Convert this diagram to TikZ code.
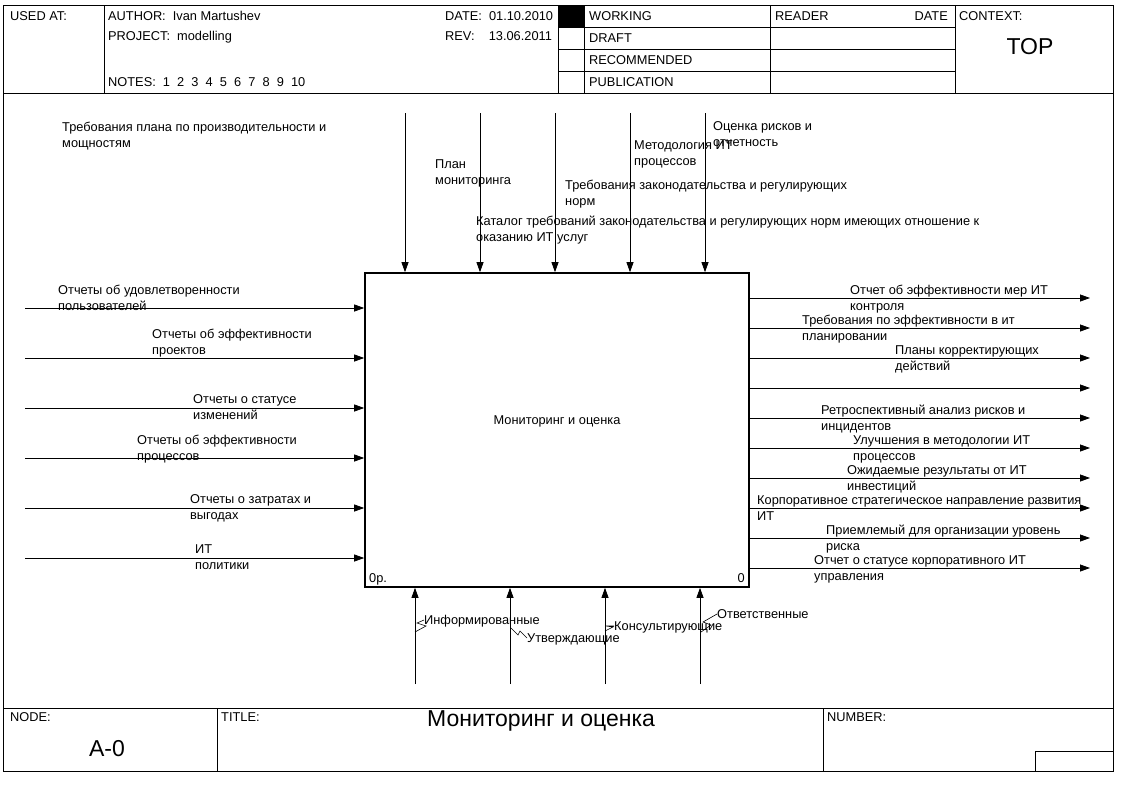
\documentclass[tikz,border=0pt]{standalone}
\usepackage{fontspec}
\setmainfont{Liberation Sans}
\usetikzlibrary{arrows.meta}
\tikzset{
    frame/.style={draw=black, line width=1pt},
    lbl/.style={anchor=base west, inner sep=0pt, align=left, font=\fontsize{12.8}{16}\selectfont},
    lble/.style={lbl, anchor=base east},
    big/.style={inner sep=0pt, font=\fontsize{23}{26}\selectfont},
    arrow/.style={-{Triangle[length=10pt, width=7pt]}, line width=0.8pt},
    squiggle/.style={line width=0.6pt}
}

\begin{document}
\begin{tikzpicture}[x=1pt, y=-1pt]
    \useasboundingbox (0,0) rectangle (1129,787);
    % header
    \draw[frame] (3,5) rectangle (1113,93);
    \foreach \x in {104,558,584,770,955}
        \draw (\x,5) -- (\x,93);
    \foreach \y in {27,49,71}
        \draw (558,\y) -- (955,\y);
    \fill (558,5) rectangle (584,27);
    \node[lbl] (usedat) at (10,20) {USED AT:};
    \node[lbl] (author) at (108,20) {AUTHOR:\ \ Ivan Martushev};
    \node[lbl] (project) at (108,40) {PROJECT:\ \ modelling};
    \node[lbl] (notes) at (108,86) {NOTES:\ \ 1\ \ 2\ \ 3\ \ 4\ \ 5\ \ 6\ \ 7\ \ 8\ \ 9\ \ 10};
    \node[lbl] (date) at (445,20) {DATE:\ \ 01.10.2010};
    \node[lbl] (rev) at (445,40) {REV:\ \ \ \ 13.06.2011};
    \foreach \name/\y/\txt in {working/20/WORKING,draft/42/DRAFT,recommended/64/RECOMMENDED,publication/86/PUBLICATION}
        \node[lbl] (\name) at (589,\y) {\txt};
    \node[lbl] (reader) at (775,20) {READER};
    \node[lble] (rdate) at (948,20) {DATE};
    \node[lbl] (context) at (959,20) {CONTEXT:};
    \node[big] (top) at (1030,47) {TOP};
    % side borders and footer
    \draw[frame] (3,93) -- (3,708) (1113,93) -- (1113,708);
    \draw[frame] (3,708) rectangle (1113,771);
    \draw (217,708) -- (217,771) (823,708) -- (823,771);
    \draw (1035,771) |- (1113,751);
    \node[lbl] (nodelbl) at (10,721) {NODE:};
    \node[big] (nodeno) at (107,749) {A-0};
    \node[lbl] (titlelbl) at (221,721) {TITLE:};
    \node[big] (title) at (541,721) {Мониторинг и оценка};
    \node[lbl] (numberlbl) at (827,721) {NUMBER:};
    % activity box
    \node[draw, line width=1.6pt, minimum width=384pt, minimum height=314pt, inner sep=0pt] (act) at (557,430) {};
    \node[lbl, anchor=center] (actname) at (557,421) {Мониторинг и оценка};
    \node[lbl] (actop) at (369,582) {0р.};
    \node[lble] (actno) at (745,582) {0};
    % inputs (label given by baseline of its last line)
    \foreach \n/\y/\x/\b/\txt in {1/308/58/310/{Отчеты об удовлетворенности\\пользователей},
            2/358/152/354/{Отчеты об эффективности\\проектов},
            3/408/193/419/{Отчеты о статусе\\изменений},
            4/458/137/460/{Отчеты об эффективности\\процессов},
            5/508/190/519/{Отчеты о затратах и\\выгодах},
            6/558/195/569/{ИТ\\политики}} {
        \coordinate (in\n) at (25,\y);
        \draw[arrow] (in\n) -- (in\n -| act.west);
        \node[lbl] (inlbl\n) at (\x,\b) {\txt};
    }
    % outputs
    \foreach \n/\y/\x/\b/\txt in {1/298/850/310/{Отчет об эффективности мер ИТ\\контроля},
            2/328/802/340/{Требования по эффективности в ит\\планировании},
            3/358/895/370/{Планы корректирующих\\действий},
            4/388/900/384/{},
            5/418/821/430/{Ретроспективный анализ рисков и\\инцидентов},
            6/448/853/460/{Улучшения в методологии ИТ\\процессов},
            7/478/847/490/{Ожидаемые результаты от ИТ\\инвестиций},
            8/508/757/520/{Корпоративное стратегическое направление развития\\ИТ},
            9/538/826/550/{Приемлемый для организации уровень\\риска},
            10/568/814/580/{Отчет о статусе корпоративного ИТ\\управления}} {
        \coordinate (out\n) at (1090,\y);
        \draw[arrow] (out\n -| act.east) -- (out\n);
        \node[lbl] (outlbl\n) at (\x,\b) {\txt};
    }
    % controls
    \foreach \n/\x in {1/405,2/480,3/555,4/630,5/705} {
        \coordinate (ctl\n) at (\x,113);
        \draw[arrow] (ctl\n) -- (ctl\n |- act.north);
    }
    \node[lbl] (ctllbl0) at (62,147) {Требования плана по производительности и\\мощностям};
    \node[lbl] (ctllbl1) at (435,184) {План\\мониторинга};
    \node[lbl] (ctllbl4) at (634,165) {Методология ИТ\\процессов};
    \node[lbl] (ctllbl5) at (713,146) {Оценка рисков и\\отчетность};
    \node[lbl] (ctllbl3) at (565,205) {Требования законодательства и регулирующих\\норм};
    \node[lbl] (ctllbl2) at (476,241) {Каталог требований законодательства и регулирующих норм имеющих отношение к\\оказанию ИТ услуг};
    % mechanisms
    \foreach \n/\x in {1/415,2/510,3/605,4/700} {
        \coordinate (mech\n) at (\x,684);
        \draw[arrow] (mech\n) -- (mech\n |- act.south);
    }
    \node[lbl] (mechlbl1) at (424,624) {Информированные};
    \node[lbl] (mechlbl2) at (527,642) {Утверждающие};
    \node[lbl] (mechlbl3) at (614,630) {Консультирующие};
    \node[lbl] (mechlbl4) at (717,618) {Ответственные};
    % squiggles to the mechanism labels
    \draw[squiggle] (415,632) -- (426,626) -- (417,623) -- (mechlbl1.west |- 0,620);
    \draw[squiggle] (511,628) -- (518,635) -- (520,631) -- (mechlbl2.west |- 0,638);
    \draw[squiggle] (605,631) -- (613,627) -- (606,626) -- (mechlbl3.west |- 0,626);
    \draw[squiggle] (701,632) -- (711,625) -- (703,622) -- (mechlbl4.west |- 0,614);
\end{tikzpicture}
\end{document}
